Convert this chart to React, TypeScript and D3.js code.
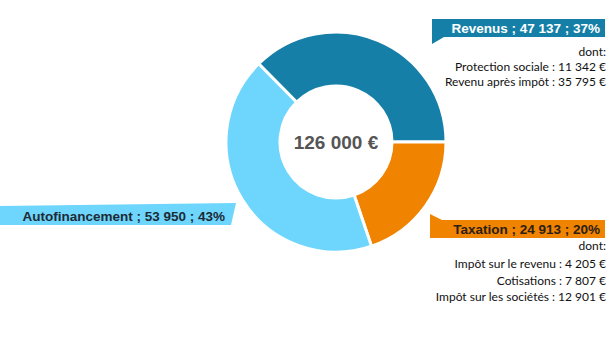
import React from "react";
import * as d3 from "d3";

const categories = ["Revenus", "Taxation", "Autofinancement"];
const values = [47137, 24913, 53950];
const colors = ["#167fa7", "#f08300", "#6ed6fc"];
const labelTextColors = ["#ffffff", "#2a2016", "#1d2a36"];

const revenusDetailLabels = ["Protection sociale", "Revenu après impôt"];
const revenusDetailValues = [11342, 35795];
const taxationDetailLabels = ["Impôt sur le revenu", "Cotisations", "Impôt sur les sociétés"];
const taxationDetailValues = [4205, 7807, 12901];

const W = 616;
const H = 360;

const locale = d3.formatLocale({ decimal: ",", thousands: " ", grouping: [3], currency: ["", " €"] });
const fmt = locale.format(",d");

export default function App() {
  const total = d3.sum(values);
  const cx = 336;
  const cy = 142;
  const R = 110;
  const r = 56;
  const startAngle = Math.PI / 2 - 2 * Math.PI * (values[0] / total);
  const pie = d3
    .pie<number>()
    .sort(null)
    .value((d) => d)
    .startAngle(startAngle)
    .endAngle(startAngle + 2 * Math.PI);
  const arcs = pie(values);
  const arc = d3.arc<d3.PieArcDatum<number>>().innerRadius(r).outerRadius(R);
  const pct = (v: number) => Math.round((v / total) * 100) + "%";
  const labelText = (i: number) => `${categories[i]} ; ${fmt(values[i])} ; ${pct(values[i])}`;

  const boldFont = "'Liberation Sans', Arial, sans-serif";
  const lightFont = "Lato, 'Noto Sans', sans-serif";

  // label boxes (annotation geometry)
  const revBox = "M432,19 L605,19 L605,37 L444,37 L432,44 Z";
  const taxBox = "M430,214 L442,220 L605,220 L605,238 L430,238 Z";
  const autoBox = "M0,206 L236,203 L231,225 L0,225 Z";

  return (
    <svg width={W} height={H} style={{ position: "absolute", left: 0, top: 0, background: "#fff" }}>
      <g transform={`translate(${cx},${cy})`}>
        {arcs.map((a, i) => (
          <path key={i} d={arc(a) || ""} fill={colors[i]} stroke="#fff" strokeWidth={3} />
        ))}
        <text
          x={0}
          y={7}
          textAnchor="middle"
          fontFamily={boldFont}
          fontWeight="bold"
          fontSize={19}
          fill="#555"
        >
          {fmt(total) + " €"}
        </text>
      </g>

      <path d={revBox} fill={colors[0]} />
      <text x={600} y={33} textAnchor="end" fontFamily={boldFont} fontWeight="bold" fontSize={13.5} fill={labelTextColors[0]}>
        {labelText(0)}
      </text>
      <g fontFamily={lightFont} fontSize={12} fill="#111" textAnchor="end">
        <text x={606} y={56}>dont:</text>
        {revenusDetailLabels.map((l, i) => (
          <text key={l} x={606} y={71 + i * 15}>
            {`${l} : ${fmt(revenusDetailValues[i])} €`}
          </text>
        ))}
      </g>

      <path d={taxBox} fill={colors[1]} />
      <text x={600} y={234} textAnchor="end" fontFamily={boldFont} fontWeight="bold" fontSize={13.5} fill={labelTextColors[1]}>
        {labelText(1)}
      </text>
      <g fontFamily={lightFont} fontSize={12} fill="#111" textAnchor="end">
        <text x={606} y={250}>dont:</text>
        {taxationDetailLabels.map((l, i) => (
          <text key={l} x={606} y={268 + i * 16.5}>
            {`${l} : ${fmt(taxationDetailValues[i])} €`}
          </text>
        ))}
      </g>

      <path d={autoBox} fill={colors[2]} />
      <text x={225} y={221} textAnchor="end" fontFamily={boldFont} fontWeight="bold" fontSize={13.5} fill={labelTextColors[2]}>
        {labelText(2)}
      </text>
    </svg>
  );
}
